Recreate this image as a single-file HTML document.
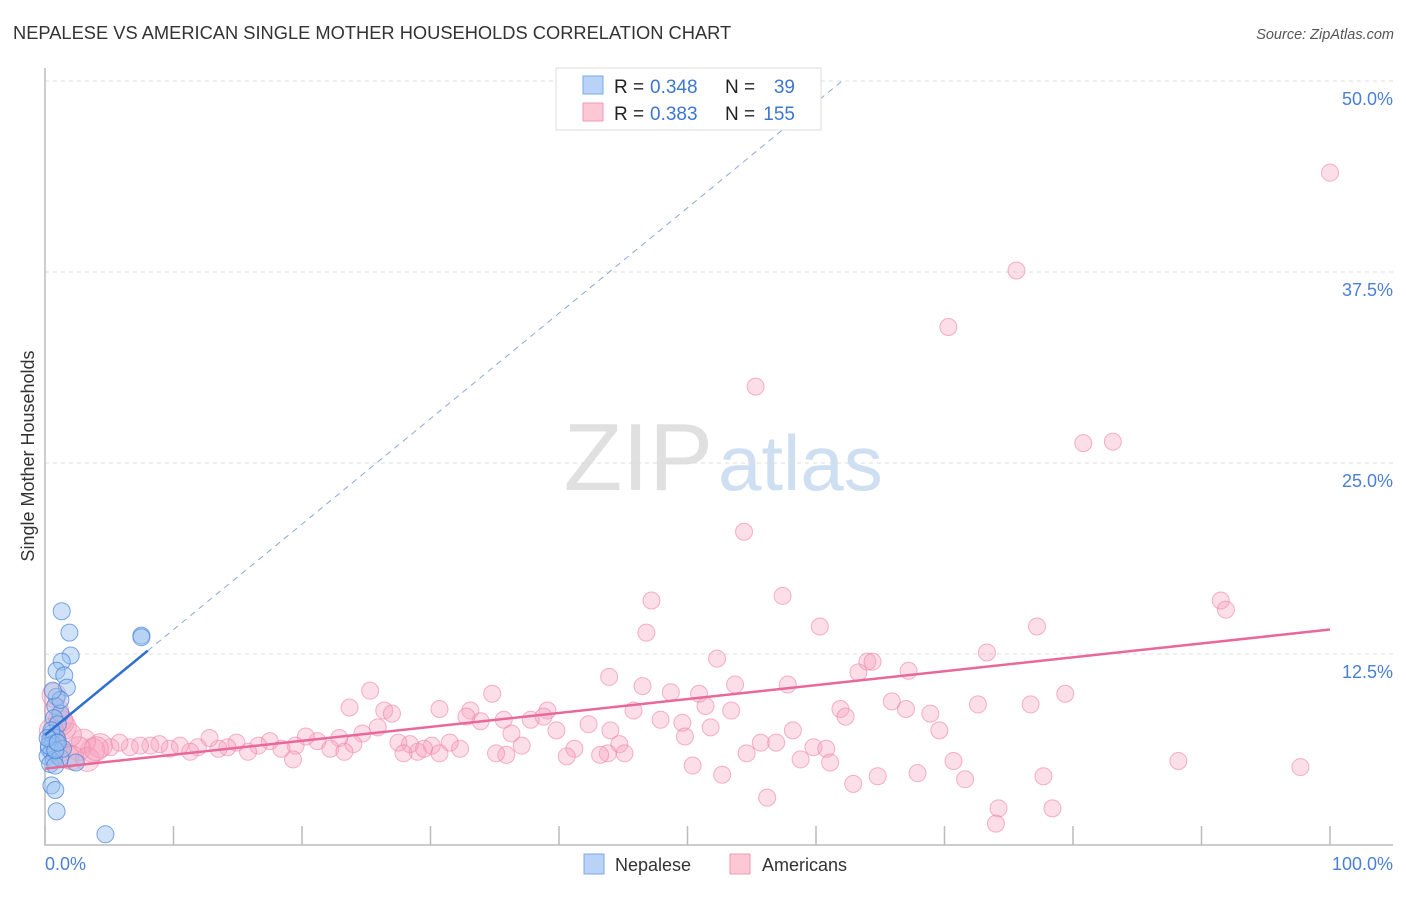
<!DOCTYPE html>
<html><head><meta charset="utf-8"><style>
body{margin:0;background:#fff;font-family:"Liberation Sans",sans-serif;}
svg text{font-family:"Liberation Sans",sans-serif;}
</style></head><body>
<svg id="chart" width="1406" height="892">
<text x="13" y="39" font-size="18.3" fill="#333">NEPALESE VS AMERICAN SINGLE MOTHER HOUSEHOLDS CORRELATION CHART</text>
<text x="1394" y="39" font-size="14.5" fill="#555" font-style="italic" text-anchor="end">Source: ZipAtlas.com</text>
<text x="713" y="490" font-size="96" fill="#e0e0e0" font-family="Liberation Serif, serif" text-anchor="end">ZIP</text>
<text x="718" y="490" font-size="78" fill="#cfdff2">atlas</text>
<g id="grid"></g><g id="axes"></g><g id="marks"></g>
<text transform="translate(34,456) rotate(-90)" font-size="18" fill="#333" text-anchor="middle">Single Mother Households</text>
<text x="45" y="870" font-size="18" fill="#4a7fd4">0.0%</text>
<text x="1393" y="870" font-size="18" fill="#4a7fd4" text-anchor="end">100.0%</text>
<g>
<rect x="556" y="68" width="265" height="62" fill="#fff" stroke="#ddd"/>
<rect x="583" y="76" width="20" height="18" fill="#b8d3f7" stroke="#7aa7e8"/>
<rect x="583" y="103" width="20" height="18" fill="#fcc8d6" stroke="#f199b4"/>
<text x="614" y="93" font-size="19" fill="#222">R =</text>
<text x="650" y="93" font-size="19" fill="#3b76d0">0.348</text>
<text x="725" y="93" font-size="19" fill="#222">N =</text>
<text x="795" y="93" font-size="19" fill="#3b76d0" text-anchor="end">39</text>
<text x="614" y="120" font-size="19" fill="#222">R =</text>
<text x="650" y="120" font-size="19" fill="#3b76d0">0.383</text>
<text x="725" y="120" font-size="19" fill="#222">N =</text>
<text x="795" y="120" font-size="19" fill="#3b76d0" text-anchor="end">155</text>
</g>
<g>
<rect x="584" y="854" width="20" height="20" fill="#b8d3f7" stroke="#7aa7e8"/>
<text x="615" y="871" font-size="18" fill="#333">Nepalese</text>
<rect x="730" y="854" width="20" height="20" fill="#fcc8d6" stroke="#f199b4"/>
<text x="762" y="871" font-size="18" fill="#333">Americans</text>
</g>
</svg>
<script>
const yTicks=[12.5,25,37.5,50];
const yTickLabels=["12.5%","25.0%","37.5%","50.0%"];
const xTicks=[0,10,20,30,40,50,60,70,80,90,100];
const blueX=[1.3,1.9,2.0,1.3,0.9,1.5,1.7,0.9,0.8,1.2,0.7,1.0,0.5,0.9,0.4,0.6,0.3,0.5,0.2,0.7,0.4,1.2,2.4,0.8,0.5,0.8,0.9,4.7,7.5,7.5,0.5,0.9,0.3,1.4,0.8,0.2,1.2,0.6,1.0];
const blueY=[15.3,13.9,12.4,12.0,11.4,11.1,10.3,9.7,9.1,8.6,8.3,7.9,7.3,7.0,6.9,6.6,6.3,6.1,5.8,5.6,5.3,5.7,5.4,5.2,3.9,3.6,2.2,0.7,13.7,13.6,7.5,6.7,6.5,6.3,6.2,7.0,9.5,10.1,6.7];
const pinkX=[100,75.6,70.3,55.3,80.8,83.1,54.4,47.2,57.4,91.5,91.9,46.8,60.3,77.2,52.3,64.0,64.4,63.3,67.2,73.3,43.9,46.5,48.7,50.9,53.7,57.8,25.3,34.8,65.9,67.0,72.6,76.7,79.4,61.9,62.3,68.9,69.6,45.8,47.9,49.6,51.4,53.4,51.8,58.2,49.8,42.3,39.1,38.8,37.8,35.7,33.1,30.7,32.8,33.9,26.4,27.0,25.9,23.7,50.4,52.7,54.6,55.7,56.9,58.8,59.8,60.8,61.1,62.9,64.8,67.9,70.7,71.6,74.2,74.0,77.7,78.4,88.2,97.7,56.2,44.0,44.7,45.1,43.8,43.2,41.2,40.6,39.8,37.1,36.3,35.9,35.1,32.3,31.5,30.1,29.0,29.5,28.4,27.5,27.9,24.7,24.0,22.9,22.2,21.2,20.3,19.5,19.3,18.4,17.5,16.6,15.8,14.9,14.2,13.5,12.8,11.9,11.3,10.5,9.7,8.9,8.2,7.4,6.6,5.8,5.1,4.3,3.7,3.0,2.6,1.9,1.5,1.2,0.9,0.7,1.3,0.7,1.0,1.7,3.3,4.0,2.1,0.5,30.7,23.3];
const pinkY=[44.0,37.6,33.9,30.0,26.3,26.4,20.5,16.0,16.3,16.0,15.4,13.9,14.3,14.3,12.2,12.0,12.0,11.3,11.4,12.6,11.0,10.4,10.0,9.9,10.5,10.5,10.1,9.9,9.4,8.9,9.2,9.2,9.9,8.9,8.4,8.6,7.5,8.8,8.2,8.0,9.1,8.8,7.7,7.5,7.1,7.9,8.8,8.4,8.2,8.2,8.8,8.9,8.4,8.1,8.8,8.6,7.7,9.0,5.2,4.6,6.0,6.7,6.7,5.6,6.4,6.3,5.4,4.0,4.5,4.7,5.5,4.3,2.4,1.4,4.5,2.4,5.5,5.1,3.1,7.5,6.6,6.0,6.0,5.9,6.3,5.8,7.5,6.5,7.3,5.9,6.0,6.3,6.7,6.5,6.1,6.3,6.6,6.7,6.0,7.3,6.6,7.0,6.3,6.8,7.1,6.5,5.6,6.3,6.8,6.5,6.1,6.7,6.4,6.3,7.0,6.4,6.1,6.5,6.3,6.6,6.5,6.5,6.4,6.7,6.4,6.5,6.2,6.8,6.3,7.2,7.7,8.2,8.8,9.8,8.0,6.9,6.1,5.8,5.6,6.3,5.7,7.5,6.0,6.1];
const blueFit=[7.2,0.69];
const pinkFit=[5.0,0.091];
const X=v=>45+v*12.85, Y=v=>845-v*15.28;
const NS="http://www.w3.org/2000/svg";
function mk(t,a,p){const e=document.createElementNS(NS,t);for(const k in a)e.setAttribute(k,a[k]);p.appendChild(e);return e;}
const grid=document.getElementById('grid'),axes=document.getElementById('axes'),marks=document.getElementById('marks');
yTicks.forEach((v,i)=>{
 const l=mk('line',{x1:45,x2:1393,y1:Y(v),y2:Y(v),stroke:'#ddd','stroke-dasharray':'4,4'},grid);
 
 
 const t=mk('text',{x:1393,y:Y(v)+24,'font-size':18,fill:'#4a7fd4','text-anchor':'end'},grid);
 t.textContent=yTickLabels[i];
 
 
});
const ax=mk('path',{d:'M45,68 V845 H1393',fill:'none',stroke:'#bbb','stroke-width':1.5},axes);


xTicks.forEach(v=>{
 const t=mk('line',{x1:X(v),x2:X(v),y1:826,y2:845,stroke:'#bbb','stroke-width':1.5},axes);
 
 
});
pinkX.forEach((x,i)=>{
 const c=mk('circle',{cx:X(x),cy:Y(pinkY[i]),r:x<5?12:8.5,fill:'rgba(246,160,188,0.35)',stroke:'rgba(238,130,165,0.6)','stroke-width':1},marks);
 
 
});
blueX.forEach((x,i)=>{
 const c=mk('circle',{cx:X(x),cy:Y(blueY[i]),r:8.5,fill:'rgba(150,190,240,0.45)',stroke:'rgba(70,130,215,0.7)','stroke-width':1},marks);
 
 
});
const bxEnd=(50-blueFit[0])/blueFit[1];
const d=mk('line',{x1:X(8),y1:Y(blueFit[0]+blueFit[1]*8),x2:X(bxEnd),y2:Y(50),stroke:'#8aa8dc','stroke-dasharray':'6,5','stroke-width':1},marks);


const b=mk('line',{x1:X(0),y1:Y(blueFit[0]),x2:X(8),y2:Y(blueFit[0]+blueFit[1]*8),stroke:'#2f6fd0','stroke-width':2.5},marks);


const p=mk('line',{x1:X(0),y1:Y(pinkFit[0]),x2:X(100),y2:Y(pinkFit[0]+pinkFit[1]*100),stroke:'#e8689a','stroke-width':2.5},marks);


</script>
</body></html>
